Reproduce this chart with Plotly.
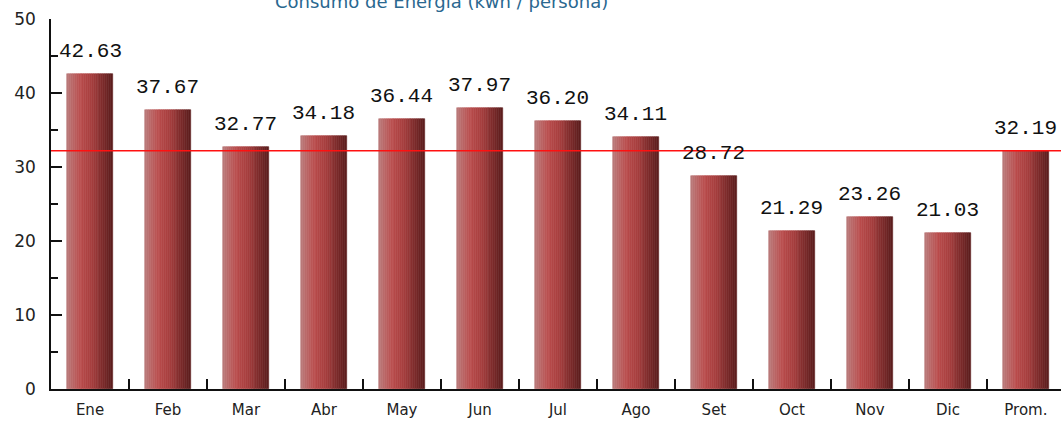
import plotly.graph_objects as go

categories = ["Ene", "Feb", "Mar", "Abr", "May", "Jun", "Jul", "Ago", "Set", "Oct", "Nov", "Dic", "Prom."]
values = [42.63, 37.67, 32.77, 34.18, 36.44, 37.97, 36.20, 34.11, 28.72, 21.29, 23.26, 21.03, 32.19]
labels = ["42.63", "37.67", "32.77", "34.18", "36.44", "37.97", "36.20", "34.11", "28.72", "21.29", "23.26", "21.03", "32.19"]
average = 32.19
title = "Consumo de Energia (kwh / persona)"

# horizontal gradient stops for bars (position, rgb)
stops = [(0.0, (186, 124, 124)), (0.3, (186, 76, 76)), (0.55, (166, 62, 62)), (1.0, (90, 28, 28))]


def grad(t):
    for (p0, c0), (p1, c1) in zip(stops[:-1], stops[1:]):
        if p0 <= t <= p1:
            f = (t - p0) / (p1 - p0)
            return "rgb(%d,%d,%d)" % tuple(round(a + (b - a) * f) for a, b in zip(c0, c1))
    return "rgb(%d,%d,%d)" % stops[-1][1]


bar_w = 0.58
n_slices = 24
fig = go.Figure()
for i in range(n_slices):
    col = grad((i + 0.5) / n_slices)
    fig.add_trace(go.Bar(
        x=categories, y=values,
        width=bar_w / n_slices, offset=-bar_w / 2 + i * bar_w / n_slices,
        marker=dict(color=col, line=dict(color=col, width=0.6)),
        hoverinfo="skip", showlegend=False,
    ))

for c, v, t in zip(categories, values, labels):
    fig.add_annotation(x=c, y=v, text=t, showarrow=False, yanchor="bottom", yshift=9,
                       font=dict(family="Liberation Mono", size=21, color="#111111"))

fig.add_shape(type="line", xref="paper", x0=0, x1=1, yref="y", y0=average, y1=average,
              line=dict(color="#ff1010", width=1.6), layer="above")

fig.add_annotation(xref="paper", yref="paper", x=0.387, y=1.046, text=title, showarrow=False,
                   xanchor="center", yanchor="middle",
                   font=dict(family="DejaVu Sans", size=18, color="#2a6890"))

fig.update_layout(
    width=1061, height=426,
    margin=dict(l=51, r=0, t=19, b=37),
    paper_bgcolor="white", plot_bgcolor="white",
    barmode="overlay", bargap=0,
    xaxis=dict(type="category", showgrid=False, showline=True, linecolor="#111111", linewidth=1.5,
               ticks="inside", tickson="boundaries", ticklen=10, tickcolor="#111111", tickwidth=1.5,
               tickfont=dict(family="DejaVu Sans", size=15, color="#222222"), ticklabelstandoff=6,
               range=[-0.5, 12.45], zeroline=False),
    yaxis=dict(range=[0, 50], dtick=10, showgrid=False, showline=True, linecolor="#111111", linewidth=1.5,
               ticks="inside", ticklen=11, tickcolor="#111111", tickwidth=1.5,
               minor=dict(ticks="inside", ticklen=7, dtick=5, tickcolor="#111111", tickwidth=1.5),
               tickfont=dict(family="DejaVu Sans", size=17, color="#222222"), ticklabelstandoff=10,
               zeroline=False),
)

fig.write_html("out.html", config={"displayModeBar": False},
               post_script="document.body.style.margin='0';document.body.style.overflow='hidden';")
